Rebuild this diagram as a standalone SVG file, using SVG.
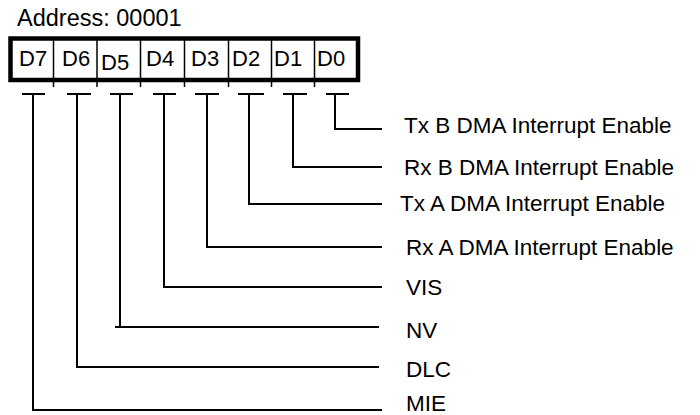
<svg xmlns="http://www.w3.org/2000/svg" width="700" height="415" viewBox="0 0 700 415">
  <style>
    text { font-family: "Liberation Sans", Arial, Helvetica, sans-serif; fill: #000; }
    .title { font-size: 23.5px; }
    .bit { font-size: 22px; }
    .lbl { font-size: 22.5px; }
    .frame { fill: #fff; stroke: #000; stroke-width: 4.5; }
    .div { stroke: #000; stroke-width: 1.5; fill: none; }
    .wire { stroke: #000; stroke-width: 2; fill: none; }
  </style>
  <rect x="0" y="0" width="700" height="415" fill="#fff"/>
  <g id="address">
    <text class="title" x="17" y="26">Address: 00001</text>
  </g>
  <g id="register">
    <rect class="frame" x="10.5" y="38.5" width="347.5" height="41.5"/>
    <line class="div" x1="53.5" y1="38" x2="53.5" y2="87"/>
    <line class="div" x1="97" y1="38" x2="97" y2="87"/>
    <line class="div" x1="140.5" y1="38" x2="140.5" y2="87"/>
    <line class="div" x1="184.5" y1="38" x2="184.5" y2="87"/>
    <line class="div" x1="228.5" y1="38" x2="228.5" y2="87"/>
    <line class="div" x1="271.5" y1="38" x2="271.5" y2="87"/>
    <line class="div" x1="314.5" y1="38" x2="314.5" y2="87"/>
  </g>
  <g id="bit-d7"><text class="bit" x="19" y="66">D7</text></g>
  <g id="bit-d6"><text class="bit" x="62" y="66">D6</text></g>
  <g id="bit-d5"><text class="bit" x="101" y="70">D5</text></g>
  <g id="bit-d4"><text class="bit" x="146" y="66">D4</text></g>
  <g id="bit-d3"><text class="bit" x="191" y="66">D3</text></g>
  <g id="bit-d2"><text class="bit" x="232" y="66">D2</text></g>
  <g id="bit-d1"><text class="bit" x="274" y="66">D1</text></g>
  <g id="bit-d0"><text class="bit" x="317" y="66">D0</text></g>
  <g id="connectors">
    <path class="wire" d="M326 94 H349 M335 94 V129 H382"/>
    <path class="wire" d="M283 94 H307 M293 94 V167 H382"/>
    <path class="wire" d="M238 94 H264 M249 94 V204 H382"/>
    <path class="wire" d="M195 94 H219 M207 94 V247 H382"/>
    <path class="wire" d="M153 94 H176 M164 94 V287 H382"/>
    <path class="wire" d="M110 94 H133 M120 94 V327 M115 327 H379"/>
    <path class="wire" d="M67 94 H91 M77 94 V367 H379"/>
    <path class="wire" d="M22 94 H45 M33 94 V410 H382"/>
  </g>
  <g id="label-d0"><text class="lbl" x="404" y="133">Tx B DMA Interrupt Enable</text></g>
  <g id="label-d1"><text class="lbl" x="404" y="175">Rx B DMA Interrupt Enable</text></g>
  <g id="label-d2"><text class="lbl" x="400" y="211">Tx A DMA Interrupt Enable</text></g>
  <g id="label-d3"><text class="lbl" x="406" y="255">Rx A DMA Interrupt Enable</text></g>
  <g id="label-d4"><text class="lbl" x="406" y="295">VIS</text></g>
  <g id="label-d5"><text class="lbl" x="406" y="338">NV</text></g>
  <g id="label-d6"><text class="lbl" x="406" y="377">DLC</text></g>
  <g id="label-d7"><text class="lbl" x="406" y="411">MIE</text></g>
</svg>
